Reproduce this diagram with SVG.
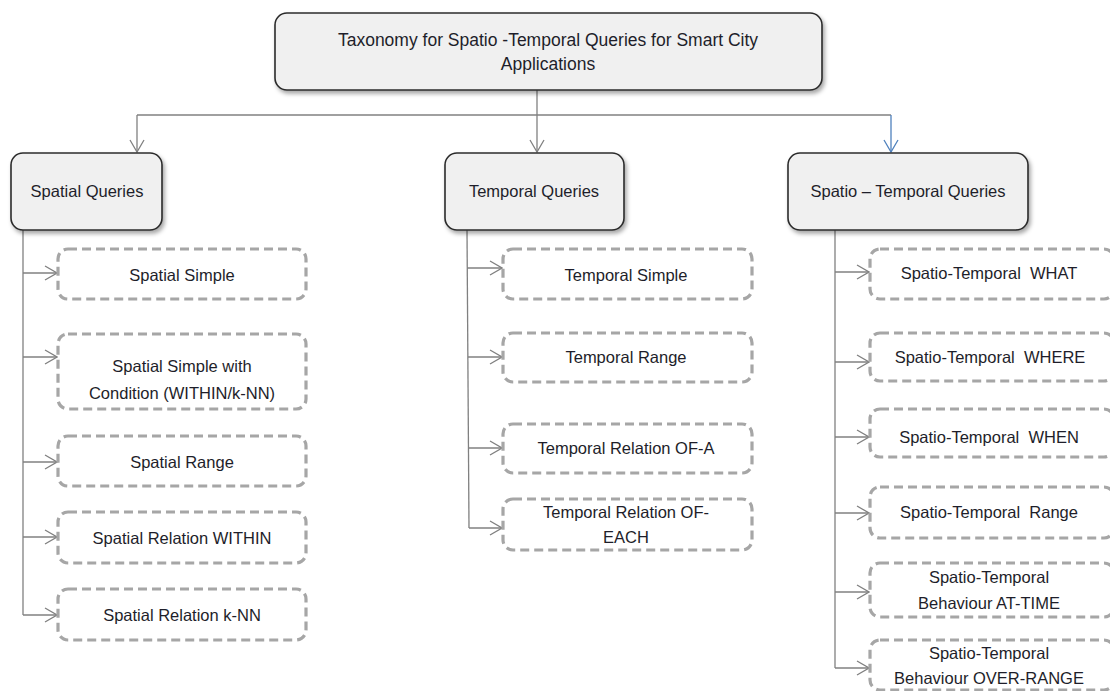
<svg xmlns="http://www.w3.org/2000/svg" width="1110" height="691" viewBox="0 0 1110 691">
  <defs>
    <filter id="shadow" x="-10%" y="-10%" width="130%" height="140%">
      <feDropShadow dx="2" dy="3" stdDeviation="2" flood-color="#000" flood-opacity="0.35"/>
    </filter>
    <marker id="arrow" viewBox="0 0 14 16" refX="13" refY="8" markerWidth="14" markerHeight="16" markerUnits="userSpaceOnUse" orient="auto">
      <path d="M1,1 L13,8 L1,15" fill="none" stroke="#808080" stroke-width="1.3"/>
    </marker>
    <marker id="arrowBlue" viewBox="0 0 14 16" refX="13" refY="8" markerWidth="14" markerHeight="16" markerUnits="userSpaceOnUse" orient="auto">
      <path d="M1,1 L13,8 L1,15" fill="none" stroke="#4f81bd" stroke-width="1.3"/>
    </marker>
    <style>
      .main { fill: #f0f0f0; stroke: #2b2b2b; stroke-width: 1.6; filter: url(#shadow); }
      .leaf { fill: #ffffff; stroke: #a6a6a6; stroke-width: 3.2; stroke-dasharray: 9 5; }
      .conn { fill: none; stroke: #808080; stroke-width: 1.3; }
      .connBlue { fill: none; stroke: #4f81bd; stroke-width: 1.3; }
      text { font-family: "Liberation Sans", Arial, sans-serif; font-size: 16.5px; fill: #1e1e2a; text-anchor: middle; white-space: pre; }
      .title { font-size: 17.5px; }
    </style>
  </defs>

  <rect width="1110" height="691" fill="#ffffff"/>

  <!-- connectors -->
  <g id="connectors">
    <path class="conn" d="M537,90 V152" marker-end="url(#arrow)"/>
    <path class="conn" d="M137,115 H891"/>
    <path class="conn" d="M137,115 V152" marker-end="url(#arrow)"/>
    <path class="connBlue" d="M891,115 V152" marker-end="url(#arrowBlue)"/>

    <!-- spatial branch -->
    <path class="conn" d="M23,230 V615"/>
    <path class="conn" d="M23,273 H57" marker-end="url(#arrow)"/>
    <path class="conn" d="M23,357 H57" marker-end="url(#arrow)"/>
    <path class="conn" d="M23,462 H57" marker-end="url(#arrow)"/>
    <path class="conn" d="M23,537 H57" marker-end="url(#arrow)"/>
    <path class="conn" d="M23,615 H57" marker-end="url(#arrow)"/>

    <!-- temporal branch -->
    <path class="conn" d="M467,230 L469,528"/>
    <path class="conn" d="M467,268 H502" marker-end="url(#arrow)"/>
    <path class="conn" d="M468,357 H502" marker-end="url(#arrow)"/>
    <path class="conn" d="M468,448 H502" marker-end="url(#arrow)"/>
    <path class="conn" d="M469,528 H502" marker-end="url(#arrow)"/>

    <!-- spatio-temporal branch -->
    <path class="conn" d="M835,230 V668"/>
    <path class="conn" d="M835,272 H869" marker-end="url(#arrow)"/>
    <path class="conn" d="M835,362 H869" marker-end="url(#arrow)"/>
    <path class="conn" d="M835,437 H869" marker-end="url(#arrow)"/>
    <path class="conn" d="M835,513 H869" marker-end="url(#arrow)"/>
    <path class="conn" d="M835,592 H869" marker-end="url(#arrow)"/>
    <path class="conn" d="M835,668 H869" marker-end="url(#arrow)"/>
  </g>

  <!-- root -->
  <g id="root">
    <rect class="main" x="275" y="13" width="547" height="77" rx="12"/>
    <text class="title" x="548" y="46">Taxonomy for Spatio -Temporal Queries for Smart City</text>
    <text class="title" x="548" y="70">Applications</text>
  </g>

  <!-- category nodes -->
  <g id="spatial">
    <rect class="main" x="11" y="153" width="151" height="77" rx="12"/>
    <text x="87" y="197">Spatial Queries</text>
  </g>
  <g id="temporal">
    <rect class="main" x="445" y="153" width="179" height="77" rx="12"/>
    <text x="534" y="197">Temporal Queries</text>
  </g>
  <g id="spatio-temporal">
    <rect class="main" x="788" y="153" width="240" height="77" rx="12"/>
    <text x="908" y="197">Spatio – Temporal Queries</text>
  </g>

  <!-- spatial leaves -->
  <g id="spatial-simple">
    <rect class="leaf" x="58" y="249" width="248" height="50" rx="10"/>
    <text x="182" y="281">Spatial Simple</text>
  </g>
  <g id="spatial-simple-condition">
    <rect class="leaf" x="58" y="334" width="248" height="75" rx="10"/>
    <text x="182" y="372">Spatial Simple with</text>
    <text x="182" y="399">Condition (WITHIN/k-NN)</text>
  </g>
  <g id="spatial-range">
    <rect class="leaf" x="58" y="436" width="248" height="50" rx="10"/>
    <text x="182" y="468">Spatial Range</text>
  </g>
  <g id="spatial-within">
    <rect class="leaf" x="58" y="512" width="248" height="51" rx="10"/>
    <text x="182" y="544">Spatial Relation WITHIN</text>
  </g>
  <g id="spatial-knn">
    <rect class="leaf" x="58" y="589" width="248" height="51" rx="10"/>
    <text x="182" y="621">Spatial Relation k-NN</text>
  </g>

  <!-- temporal leaves -->
  <g id="temporal-simple">
    <rect class="leaf" x="503" y="249" width="249" height="50" rx="10"/>
    <text x="626" y="281">Temporal Simple</text>
  </g>
  <g id="temporal-range">
    <rect class="leaf" x="503" y="333" width="249" height="49" rx="10"/>
    <text x="626" y="363">Temporal Range</text>
  </g>
  <g id="temporal-of-a">
    <rect class="leaf" x="503" y="424" width="249" height="49" rx="10"/>
    <text x="626" y="454">Temporal Relation OF-A</text>
  </g>
  <g id="temporal-of-each">
    <rect class="leaf" x="503" y="499" width="249" height="51" rx="10"/>
    <text x="626" y="518">Temporal Relation OF-</text>
    <text x="626" y="543">EACH</text>
  </g>

  <!-- spatio-temporal leaves -->
  <g id="st-what">
    <rect class="leaf" x="870" y="249" width="244" height="50" rx="10"/>
    <text x="989" y="279">Spatio-Temporal  WHAT</text>
  </g>
  <g id="st-where">
    <rect class="leaf" x="870" y="333" width="244" height="48" rx="10"/>
    <text x="990" y="363">Spatio-Temporal  WHERE</text>
  </g>
  <g id="st-when">
    <rect class="leaf" x="870" y="409" width="244" height="48" rx="10"/>
    <text x="989" y="443">Spatio-Temporal  WHEN</text>
  </g>
  <g id="st-range">
    <rect class="leaf" x="870" y="487" width="244" height="51" rx="10"/>
    <text x="989" y="518">Spatio-Temporal  Range</text>
  </g>
  <g id="st-at-time">
    <rect class="leaf" x="870" y="563" width="244" height="54" rx="10"/>
    <text x="989" y="583">Spatio-Temporal</text>
    <text x="989" y="609">Behaviour AT-TIME</text>
  </g>
  <g id="st-over-range">
    <rect class="leaf" x="870" y="640" width="244" height="50" rx="10"/>
    <text x="989" y="659">Spatio-Temporal</text>
    <text x="989" y="684">Behaviour OVER-RANGE</text>
  </g>
</svg>
